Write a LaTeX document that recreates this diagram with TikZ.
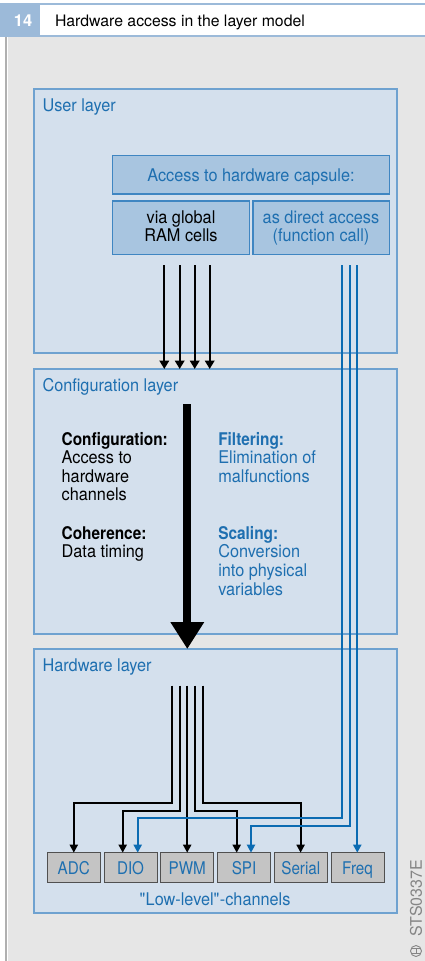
\documentclass[tikz,border=0pt]{standalone}
\usepackage{fontspec}
\setmainfont{TeX Gyre Heros}[FakeStretch=0.93]
\newfontfamily\plainsans{TeX Gyre Heros}
\newfontfamily\condbold{TeX Gyre Heros}[FakeStretch=0.88]
\newfontfamily\chanfont{TeX Gyre Heros}[FakeStretch=0.87]
\usetikzlibrary{arrows.meta}

\definecolor{pagegray}{HTML}{E6E6E6}
\definecolor{rulegray}{HTML}{B0B0B0}
\definecolor{headblue}{HTML}{9CBAD9}
\definecolor{layerfill}{HTML}{D4E0ED}
\definecolor{layerdraw}{HTML}{6FA2D0}
\definecolor{capfill}{HTML}{A8C5E0}
\definecolor{capdraw}{HTML}{3F86C2}
\definecolor{textblue}{HTML}{1E6FB0}
\definecolor{wireblue}{HTML}{0B6BB2}
\definecolor{chanfill}{HTML}{C4C4C4}
\definecolor{chandraw}{HTML}{505050}
\definecolor{markgray}{HTML}{858585}

\begin{document}
\begin{tikzpicture}[x=1pt,y=-1pt,
  every node/.style={inner sep=0pt, outer sep=0pt},
  body/.style={font=\fontsize{17.5}{18.6}\selectfont},
  layerbox/.style={draw=layerdraw, fill=layerfill, line width=1.2pt,
    anchor=north west, minimum width=363pt},
  layertitle/.style={body, text=textblue, anchor=base west},
  capbox/.style={draw=capdraw, fill=capfill, line width=1.1pt, anchor=north west},
  chanbox/.style={font=\chanfont\fontsize{17.5}{18.6}\selectfont, text=textblue,
    draw=chandraw, fill=chanfill, line width=1pt,
    anchor=north west, minimum width=53pt, minimum height=30pt,
    text height=13.6pt, text depth=0pt},
  para/.style={body, align=left, anchor=north west},
  centrepara/.style={body, align=center, anchor=north},
  wire/.style={line width=2pt, line join=miter},
  blackwire/.style={wire, black, -{Triangle[width=8pt,length=8pt]}},
  bluewire/.style={wire, wireblue, -{Triangle[width=8pt,length=8pt]}},
  userarrow/.style={line width=2.3pt, black, -{Triangle[width=9.5pt,length=8.5pt]}},
  ]
\useasboundingbox (0,0) rectangle (425,961);

% page background and left rule
\fill[white] (0,0) rectangle (425,961);
\fill[pagegray] (7.5,37) rectangle (425,961);
\draw[rulegray, line width=2pt] (6.4,37) -- (6.4,961);

% heading bar
\fill[headblue] (0,3.3) rectangle (40,37.3);
\draw[headblue, line width=1.4pt] (40,4) -- (425,4);
\draw[headblue, line width=2.4pt] (40,36) -- (425,36);
\node[font=\plainsans\bfseries\fontsize{16.5}{18}\selectfont, text=white, anchor=base]
  (fignum) at (23,26.6) {14};
\node[font=\plainsans\fontsize{15.8}{18}\selectfont, anchor=base west]
  (figtitle) at (55,26.6) {Hardware access in the layer model};

% the three layers
\node[layerbox, minimum height=264pt] (user) at (34,89) {};
\node[layerbox, minimum height=265pt] (config) at (34,369) {};
\node[layerbox, minimum height=264pt] (hw) at (34,649) {};
\node[layertitle] (usertitle) at (42.5,111.7) {User layer};
\node[layertitle] (configtitle) at (42.5,391.7) {Configuration layer};
\node[layertitle] (hwtitle) at (42.5,671.7) {Hardware layer};

% hardware capsule in the user layer
\node[capbox, minimum width=276.7pt, minimum height=38.3pt] (capsule) at (112.7,155.7) {};
\node[capbox, minimum width=136.6pt, minimum height=53.3pt] (ramcells) at (112.7,201) {};
\node[capbox, minimum width=136.7pt, minimum height=53.3pt] (direct) at (253,201) {};
\node[body, text=textblue, anchor=base] (capsuletext) at (251,181.5)
  {Access to hardware capsule:};
\node[centrepara] (ramtext) at (181,210.3)
  {\rule{0pt}{13pt}via global\\RAM cells};
\node[centrepara, text=textblue] (directtext) at (321,210.3)
  {\rule{0pt}{13pt}as direct access\\(function call)};

% configuration layer contents
\node[para] (cfgtext) at (61.7,432)
  {\rule{0pt}{13pt}{\condbold\bfseries Configuration:}\\Access to\\hardware\\channels};
\node[para] (cohtext) at (61.7,526.3)
  {\rule{0pt}{13pt}{\condbold\bfseries Coherence:}\\Data timing};
\node[para, text=textblue] (filtext) at (218.3,432)
  {\rule{0pt}{13pt}{\condbold\bfseries Filtering:}\\Elimination of\\malfunctions};
\node[para, text=textblue] (scaltext) at (218.3,526.3)
  {\rule{0pt}{13pt}{\condbold\bfseries Scaling:}\\Conversion\\into physical\\variables};

% low-level channels
\node[chanbox] (adc) at (47.3,852.7) {ADC};
\node[chanbox] (dio) at (104.05,852.7) {DIO};
\node[chanbox] (pwm) at (160.8,852.7) {PWM};
\node[chanbox] (spi) at (217.55,852.7) {SPI};
\node[chanbox] (serial) at (274.3,852.7) {Serial};
\node[chanbox] (freq) at (331.05,852.7) {Freq};
\node[body, text=textblue, anchor=base] (chantitle) at (215,905)
  {\textquotedbl Low-level\textquotedbl-channels};

% RAM-cell accesses into the configuration layer
\coordinate (ua1) at (164.3,265);
\coordinate (ua2) at (179.7,265);
\coordinate (ua3) at (194.7,265);
\coordinate (ua4) at (209.7,265);
\foreach \c in {ua1,ua2,ua3,ua4}
  \draw[userarrow] (\c) -- (\c |- config.north);

% configuration feeding the hardware layer
\coordinate (bigtop) at (187.3,404);
\draw[line width=8pt, -{Triangle[width=32pt,length=27pt]}] (bigtop) -- (bigtop |- hw.north);

% hardware-layer fan-out to the channels
\coordinate (k1) at (172.3,685.5);
\coordinate (k2) at (179.7,685.5);
\coordinate (k3) at (187.2,685.5);
\coordinate (k4) at (194.7,685.5);
\coordinate (k5) at (202.7,685.5);
\coordinate (k1turn) at (73.8,803.3);
\coordinate (k2turn) at (122.7,810.7);
\coordinate (k4turn) at (236.7,810.7);
\coordinate (k5turn) at (300.6,803.3);
\draw[blackwire] (k1) |- (k1turn) -- (k1turn |- adc.north);
\draw[blackwire] (k2) |- (k2turn) -- (k2turn |- dio.north);
\draw[blackwire] (k3) -- (k3 |- pwm.north);
\draw[blackwire] (k4) |- (k4turn) -- (k4turn |- spi.north);
\draw[blackwire] (k5) |- (k5turn) -- (k5turn |- serial.north);

% direct function-call accesses
\coordinate (bu1) at (342.3,265);
\coordinate (bu2) at (349.7,265);
\coordinate (bu3) at (357.3,265);
\coordinate (bu1turn) at (137.7,818.3);
\coordinate (bu2turn) at (251,826.3);
\draw[bluewire] (bu1) |- (bu1turn) -- (bu1turn |- dio.north);
\draw[bluewire] (bu2) |- (bu2turn) -- (bu2turn |- spi.north);
\draw[bluewire] (bu3) -- (bu3 |- freq.north);

% drawing number with maker's mark
\node[font=\plainsans\fontsize{16}{18}\selectfont, text=markgray, rotate=90]
  (drawno) at (416,898) {STS0337E};
\node[draw=markgray, line width=0.9pt, circle, minimum size=11pt] (mark) at (416,951) {};
\draw[markgray, line width=0.8pt]
  ([xshift=-4.3pt,yshift=2.2pt]mark.center) -- ([xshift=4.3pt,yshift=2.2pt]mark.center)
  ([xshift=-4.3pt,yshift=-2.2pt]mark.center) -- ([xshift=4.3pt,yshift=-2.2pt]mark.center)
  ([yshift=2.2pt]mark.center) -- ([yshift=-2.2pt]mark.center);
\end{tikzpicture}
\end{document}
